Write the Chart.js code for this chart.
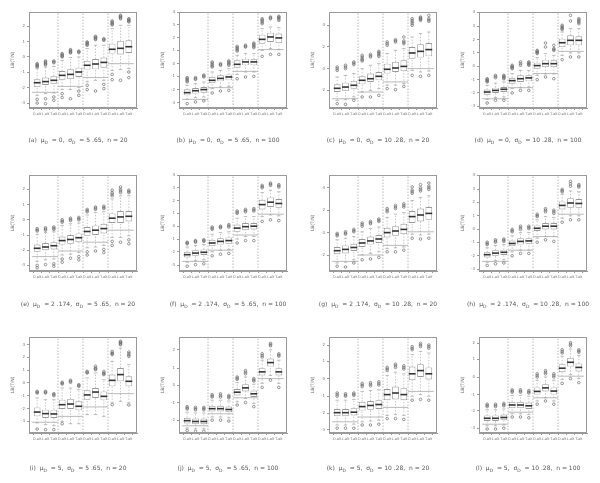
<!DOCTYPE html>
<html><head><meta charset="utf-8">
<script src="https://cdn.jsdelivr.net/npm/chart.js@4.4.0/dist/chart.umd.min.js"></script>
<style>
body{margin:0;background:#fff;width:600px;height:483px;overflow:hidden;position:relative;font-family:"DejaVu Sans",sans-serif}
canvas{position:absolute}
.cap{position:absolute;width:150px;text-align:center;font-size:6px;color:#555;white-space:pre;will-change:transform}
.cap sub{font-size:4.5px}
</style></head><body>
<script>
// panels in reading order (a)..(l)
const letters = ["a","b","c","d","e","f","g","h","i","j","k","l"];
const muD = ["0","0","0","0","2 .174","2 .174","2 .174","2 .174","5","5","5","5"];
const sigmaD = ["5 .65","5 .65","10 .28","10 .28","5 .65","5 .65","10 .28","10 .28","5 .65","5 .65","10 .28","10 .28"];
const nObs = [20,100,20,100,20,100,20,100,20,100,20,100];
const methods = ["D.alt","L.alt","T.alt","D.alt","L.alt","T.alt","D.alt","L.alt","T.alt","D.alt","L.alt","T.alt"];
const yTickValues = [
  [0.31,1.27,2.23,3.19,4.15,5.10],
  [0.33,1.15,1.98,2.77,3.60,4.40,5.21,6.0],
  [1.10,2.46,3.83,5.17],
  [0.10,0.94,1.77,2.60,3.44,4.27,5.10,6.0],
  [0.35,1.3,2.25,3.2,4.15,5.1],
  [0.35,1.2,2.0,2.8,3.6,4.4,5.2,6.0],
  [1.0,2.4,3.8,5.2],
  [0.1,0.95,1.8,2.6,3.45,4.3,5.1,6.0],
  [0.73,1.52,2.33,3.13,3.92,4.73,5.52],
  [0.81,1.88,3.0,4.06,5.2],
  [0.2,1.25,2.3,3.4,4.5,5.5],
  [0.3,1.4,2.4,3.5,4.6,5.6]
];
const yTickLabels = [
  ["-3","-2","-1","0","1","2"],
  ["-3","-2","-1","0","1","2","3","4"],
  ["-2","0","2","4"],
  ["-3","-2","-1","0","1","2","3","4"],
  ["-3","-2","-1","0","1","2"],
  ["-3","-2","-1","0","1","2","3","4"],
  ["-2","0","2","4"],
  ["-3","-2","-1","0","1","2","3","4"],
  ["-3","-2","-1","0","1","2","3"],
  ["-2","-1","0","1","2"],
  ["-3","-2","-1","0","1","2"],
  ["-3","-2","-1","0","1","2"]
];
const boxQ1 = [
  [1.31,1.44,1.52,1.77,1.81,1.94,2.40,2.42,2.52,3.40,3.35,3.44],
  [0.79,0.90,0.96,1.56,1.67,1.73,2.52,2.67,2.67,4.02,4.13,4.06],
  [1.00,1.06,1.21,1.48,1.63,1.73,2.15,2.25,2.31,3.08,3.15,3.23],
  [0.83,0.94,1.00,1.52,1.63,1.67,2.46,2.56,2.56,3.81,3.92,3.92],
  [1.20,1.30,1.35,1.65,1.70,1.80,2.20,2.25,2.35,3.00,3.00,3.10],
  [0.85,0.95,1.00,1.55,1.65,1.70,2.45,2.55,2.60,3.85,4.00,3.95],
  [1.05,1.10,1.25,1.50,1.65,1.75,2.10,2.20,2.30,3.00,3.10,3.20],
  [0.85,0.95,1.00,1.55,1.65,1.70,2.50,2.60,2.60,3.85,3.95,3.95],
  [1.04,0.94,0.94,1.50,1.50,1.42,2.08,2.19,2.04,2.92,3.23,2.92],
  [0.60,0.55,0.55,1.35,1.35,1.30,2.35,2.60,2.25,3.60,4.15,3.60],
  [1.05,1.05,1.10,1.40,1.45,1.50,2.05,2.10,2.05,3.30,3.50,3.35],
  [0.75,0.75,0.80,1.55,1.55,1.50,2.40,2.60,2.40,3.80,4.15,3.85]
];
const boxMed = [
  [1.58,1.65,1.73,2.04,2.10,2.25,2.67,2.75,2.85,3.67,3.73,3.83],
  [0.96,1.08,1.15,1.73,1.85,1.94,2.73,2.88,2.88,4.29,4.44,4.38],
  [1.23,1.31,1.42,1.73,1.83,1.98,2.42,2.50,2.60,3.44,3.54,3.65],
  [1.00,1.10,1.17,1.71,1.83,1.88,2.65,2.77,2.77,4.08,4.23,4.23],
  [1.42,1.50,1.58,1.90,1.97,2.08,2.47,2.55,2.65,3.30,3.38,3.42],
  [1.02,1.12,1.17,1.75,1.85,1.90,2.68,2.77,2.80,4.15,4.30,4.22],
  [1.27,1.35,1.47,1.75,1.88,2.00,2.40,2.50,2.60,3.40,3.50,3.60],
  [1.02,1.12,1.17,1.72,1.85,1.88,2.67,2.80,2.80,4.10,4.25,4.22],
  [1.31,1.21,1.19,1.77,1.81,1.67,2.38,2.56,2.29,3.29,3.65,3.23],
  [0.77,0.72,0.72,1.52,1.52,1.47,2.55,2.82,2.45,3.82,4.40,3.82],
  [1.27,1.27,1.30,1.65,1.72,1.78,2.40,2.50,2.40,3.70,3.90,3.70],
  [0.92,0.92,0.97,1.75,1.75,1.70,2.60,2.82,2.62,4.05,4.42,4.10]
];
const boxQ3 = [
  [1.79,1.90,1.98,2.31,2.42,2.52,2.94,3.06,3.15,4.02,4.19,4.23],
  [1.17,1.25,1.31,1.94,2.04,2.10,2.98,3.08,3.04,4.58,4.71,4.65],
  [1.48,1.58,1.69,1.98,2.15,2.25,2.77,2.88,2.98,3.81,3.98,4.06],
  [1.15,1.27,1.31,1.88,2.04,2.04,2.83,3.02,2.98,4.33,4.54,4.48],
  [1.65,1.75,1.80,2.15,2.25,2.35,2.75,2.85,2.95,3.60,3.75,3.75],
  [1.20,1.30,1.35,1.95,2.05,2.10,2.90,3.00,3.00,4.45,4.60,4.50],
  [1.50,1.60,1.70,2.00,2.15,2.25,2.70,2.80,2.95,3.75,3.90,4.00],
  [1.17,1.30,1.33,1.90,2.05,2.05,2.85,3.00,3.00,4.35,4.55,4.50],
  [1.60,1.46,1.46,2.08,2.13,1.98,2.67,2.81,2.60,3.65,4.06,3.54],
  [0.95,0.90,0.90,1.70,1.70,1.65,2.75,3.05,2.65,4.05,4.65,4.05],
  [1.50,1.50,1.55,1.95,2.00,2.05,2.75,2.90,2.80,4.15,4.30,4.10],
  [1.10,1.10,1.15,1.95,1.95,1.90,2.85,3.05,2.85,4.30,4.70,4.35]
];
const whiskLo = [
  [0.79,0.90,0.94,1.15,1.15,1.27,1.63,1.73,1.73,2.35,2.40,2.46],
  [0.54,0.65,0.69,1.21,1.31,1.35,2.10,2.25,2.25,3.60,3.71,3.65],
  [0.48,0.52,0.69,1.00,1.10,1.21,1.42,1.42,1.52,2.35,2.25,2.31],
  [0.54,0.65,0.69,1.21,1.27,1.31,2.04,2.13,2.13,3.29,3.44,3.44],
  [0.60,0.70,0.75,1.00,1.05,1.15,1.45,1.50,1.60,2.10,2.10,2.20],
  [0.55,0.65,0.70,1.20,1.30,1.35,2.00,2.15,2.15,3.40,3.50,3.45],
  [0.50,0.55,0.70,1.00,1.10,1.20,1.40,1.45,1.50,2.30,2.25,2.30],
  [0.55,0.65,0.70,1.20,1.30,1.30,2.05,2.15,2.15,3.30,3.45,3.45],
  [0.63,0.52,0.46,0.71,0.58,0.58,1.15,1.15,1.04,1.88,1.98,1.88],
  [0.30,0.25,0.25,1.00,1.00,0.95,1.95,2.15,1.85,3.10,3.60,3.10],
  [0.50,0.50,0.55,0.70,0.75,0.80,1.10,1.15,1.10,2.30,2.40,2.30],
  [0.45,0.45,0.50,1.20,1.20,1.15,2.00,2.20,2.00,3.35,3.65,3.40]
];
const whiskHi = [
  [2.46,2.56,2.60,2.98,3.15,3.19,3.71,3.92,3.92,4.96,5.17,5.17],
  [1.42,1.52,1.63,2.25,2.35,2.46,3.29,3.40,3.40,4.96,5.06,5.02],
  [1.94,2.04,2.15,2.46,2.67,2.77,3.40,3.60,3.71,4.44,4.65,4.75],
  [1.42,1.56,1.63,2.15,2.35,2.35,3.15,3.40,3.29,4.75,4.96,4.96],
  [2.30,2.40,2.45,2.85,2.95,3.00,3.50,3.65,3.70,4.50,4.70,4.70],
  [1.50,1.60,1.65,2.30,2.40,2.45,3.30,3.40,3.40,4.90,5.05,4.95],
  [1.95,2.05,2.15,2.45,2.65,2.75,3.35,3.55,3.65,4.40,4.60,4.70],
  [1.45,1.60,1.65,2.20,2.40,2.40,3.20,3.40,3.35,4.80,5.00,4.95],
  [2.19,2.08,2.08,2.81,2.81,2.71,3.44,3.75,3.33,4.48,5.31,4.27],
  [1.30,1.25,1.25,2.05,2.05,2.00,3.15,3.50,3.05,4.55,5.20,4.55],
  [2.05,2.05,2.10,2.60,2.65,2.70,3.60,3.80,3.70,4.90,5.10,5.00],
  [1.45,1.45,1.50,2.35,2.35,2.30,3.30,3.50,3.30,4.80,5.25,4.85]
];
const outHigh = [
  [[2.56,2.62,2.67,2.72,2.77],[2.69,2.75,2.81,2.88,2.94],[2.83,2.88,2.94],[3.19,3.24,3.29,3.35,3.40],[3.44,3.49,3.54,3.60,3.65],[3.46,3.51,3.56],[3.92,3.97,4.02,4.08,4.13],[4.27,4.32,4.38,4.43,4.48],[4.23,4.28,4.33],[5.19,5.25,5.31,5.38,5.44],[5.58,5.63,5.69,5.74,5.79],[5.38,5.43,5.48,5.53,5.58]],
  [[1.63,1.70,1.77,1.84,1.90],[1.79,1.84,1.90],[1.94,2.00,2.06],[2.56,2.63,2.71,2.80,2.88],[2.67,2.72,2.77],[2.67,2.74,2.81,2.88,2.94],[3.56,3.63,3.71,3.78,3.85],[3.81,3.86,3.92],[3.77,3.84,3.92,3.99,4.06],[5.27,5.35,5.44,5.51,5.58],[5.58,5.63,5.69],[5.48,5.55,5.63,5.68,5.73]],
  [[2.35,2.45,2.56],[2.46,2.56,2.67],[2.71,2.80,2.88],[2.94,3.01,3.08,3.19,3.29],[3.19,3.27,3.35],[3.23,3.31,3.40,3.47,3.54],[3.92,4.02,4.13],[4.13,4.20,4.27],[4.02,4.10,4.19,4.44],[5.17,5.27,5.38,5.48,5.58],[5.48,5.53,5.58,5.63,5.69],[5.42,5.50,5.58,5.79]],
  [[1.63,1.68,1.73,1.78,1.83],[1.90,1.97,2.04],[1.83,1.88,1.94,1.99,2.04],[2.46,2.51,2.56,2.61,2.67],[2.67,2.77,2.88],[2.67,2.72,2.77,2.82,2.88],[3.40,3.45,3.50,3.55,3.60],[3.81,4.06],[3.60,3.66,3.71,3.92],[4.90,4.96,5.02,5.10,5.17],[5.44,5.79],[5.27,5.35,5.44,5.51,5.58]],
  [[2.50,2.57,2.65],[2.55,2.62,2.70],[2.60,2.67,2.75],[3.05,3.12,3.20],[3.15,3.22,3.30],[3.20,3.27,3.35],[3.70,3.77,3.85],[3.85,3.92,4.00],[3.90,3.97,4.05],[4.70,4.80,4.90,5.05],[4.90,5.00,5.10,5.25],[4.90,4.97,5.05]],
  [[1.70,1.75,1.80],[1.80,1.85,1.90],[1.85,1.90,1.95],[2.60,2.67,2.75],[2.70,2.75,2.80],[2.75,2.82,2.90],[3.60,3.67,3.75],[3.70,3.77,3.85],[3.75,3.82,3.90],[5.20,5.27,5.35],[5.35,5.42,5.50],[5.25,5.32,5.40]],
  [[2.20,2.27,2.35],[2.30,2.37,2.45],[2.45,2.52,2.60],[2.80,2.90,3.00],[2.95,3.02,3.10],[3.10,3.17,3.25],[3.70,3.80,3.90],[3.90,4.00,4.10],[4.00,4.10,4.20],[4.85,4.95,5.05,5.25],[5.00,5.10,5.20,5.40],[5.10,5.20,5.30,5.50]],
  [[1.65,1.72,1.80],[1.80,1.87,1.95],[1.85,1.92,2.00],[2.45,2.52,2.60],[2.60,2.70,2.80],[2.65,2.72,2.80],[3.40,3.47,3.55],[3.70,3.80,3.90],[3.60,3.70,3.80],[4.95,5.02,5.10],[5.30,5.45,5.60],[5.25,5.32,5.40]],
  [[2.50,2.55,2.60],[2.50,2.55,2.60],[2.33,2.40,2.46],[3.06,3.11,3.17],[3.17,3.23,3.29],[2.92,2.97,3.02],[3.75,3.80,3.85],[3.96,4.01,4.06,4.17],[3.65,3.70,3.75,3.85],[4.90,4.95,5.00,5.10],[5.52,5.57,5.63,5.68,5.73],[4.79,4.87,4.96,5.06]],
  [[1.50,1.57,1.65],[1.45,1.52,1.60],[1.45,1.52,1.60],[2.25,2.32,2.40],[2.25,2.35,2.45],[2.20,2.27,2.35],[3.35,3.42,3.50],[3.70,3.80,3.90],[3.25,3.32,3.40],[4.75,4.85,4.95],[5.45,5.52,5.60],[4.80,4.87,4.95]],
  [[2.30,2.40,2.50],[2.30,2.37,2.45],[2.35,2.42,2.50],[2.90,3.00,3.10],[2.95,3.05,3.15],[3.00,3.10,3.20],[3.90,4.00,4.10],[4.10,4.20,4.30],[4.00,4.10,4.20],[5.20,5.30,5.40],[5.40,5.50,5.60],[5.30,5.40,5.50]],
  [[1.65,1.72,1.80],[1.65,1.72,1.80],[1.70,1.77,1.85],[2.55,2.62,2.70],[2.55,2.62,2.70],[2.50,2.57,2.65],[3.50,3.60,3.70],[3.70,3.80,3.90],[3.50,3.60,3.70],[5.00,5.10,5.20],[5.45,5.55,5.65],[5.05,5.12,5.20]]
];
const outLow = [
  [[0.54,0.31],[0.58,0.27],[0.69,0.48],[0.90,0.65],[0.58],[1.06,0.79],[1.42,1.15],[1.06],[1.48,1.21],[2.10,1.77],[1.73],[2.25,1.90]],
  [[0.27],[0.38],[0.44],[0.94],[1.06],[1.10],[1.83],[1.94],[1.98],[3.23],[3.35],[3.35]],
  [[0.27],[0.23],[0.48],[0.69],[0.69],[0.79],[1.21],[1.15],[1.35],[2.04],[1.98],[2.04]],
  [[0.31],[0.48],[0.48],[0.94],[1.10],[1.10],[1.77],[1.94],[1.83],[3.02],[3.19],[3.19]],
  [[0.35,0.20],[0.40],[0.45,0.30],[0.75,0.55],[0.80],[0.90,0.70],[1.20,1.00],[1.25],[1.35,1.15],[1.85,1.60],[1.80],[1.95,1.70]],
  [[0.30],[0.40],[0.45],[0.95],[1.05],[1.10],[1.75],[1.90],[1.90],[3.10],[3.20],[3.15]],
  [[0.30],[0.25],[0.50],[0.70],[0.75],[0.85],[1.20],[1.20],[1.30],[2.05],[2.00],[2.05]],
  [[0.35],[0.45],[0.50],[0.95],[1.10],[1.10],[1.80],[1.95],[1.85],[3.05],[3.20],[3.20]],
  [[0.25],[0.21],[0.21],[0.58],[],[],[],[],[],[1.77],[],[1.75]],
  [[0.15],[0.10],[0.10],[0.80],[0.80],[0.75],[1.75],[1.90],[1.65],[2.85],[3.30],[2.85]],
  [[0.30],[0.30],[0.30],[0.50],[0.50],[0.55],[0.90],[0.90],[0.85],[2.05],[2.10],[2.05]],
  [[0.25],[0.25],[0.30],[1.00],[1.00],[0.95],[1.80],[2.00],[1.80],[3.10],[3.40],[3.15]]
];
const refLevels = [
  [0.98,1.35,1.90,2.77],
  [0.54,1.27,2.29,3.65],
  [0.58,1.00,1.63,2.46],
  [0.58,1.27,2.15,3.54],
  [0.90,1.25,1.80,2.55],
  [0.60,1.30,2.25,3.55],
  [0.60,1.00,1.60,2.45],
  [0.60,1.30,2.15,3.55],
  [0.67,1.04,1.63,2.46],
  [0.45,1.20,2.20,3.40],
  [0.70,1.00,1.60,2.60],
  [0.55,1.30,2.20,3.55]
];
const groupEdges = [0.4,3.5,6.5,9.5,12.6];
const separators = [3.5,6.5,9.5];
const Y_MIN = 0, Y_MAX = 6;

const GREY = "#9a9a9a";
const frame = {
  id: "frame",
  afterDraw(chart) {
    const {ctx, chartArea: a} = chart;
    ctx.save();
    ctx.strokeStyle = GREY;
    ctx.lineWidth = 1;
    ctx.strokeRect(Math.round(a.left) + 0.5, Math.round(a.top) + 0.5, Math.round(a.width) - 1, Math.round(a.height) - 1);
    ctx.restore();
  }
};

function makePanel(p) {
  const col = p % 4, row = Math.floor(p / 4);
  const cv = document.createElement("canvas");
  cv.width = 150; cv.height = 125;
  cv.style.left = (col * 150) + "px";
  cv.style.top = [0, 163, 325][row] + "px";
  document.body.appendChild(cv);

  const cap = document.createElement("div");
  cap.className = "cap";
  cap.style.left = (col * 150 + 3) + "px";
  cap.style.top = [136, 300, 464][row] + "px";
  cap.innerHTML = "(" + letters[p] + ")  μ<sub>D</sub>  = " + muD[p] + ",  σ<sub>D</sub>  = " + sigmaD[p] + ",  n = " + nObs[p];
  document.body.appendChild(cap);

  const xs = methods.map((m, i) => i + 1);
  const boxes = xs.map((x, i) => ({x: x, y: [boxQ1[p][i], boxQ3[p][i]]}));
  const meds = xs.map((x, i) => ({x: x, y: boxMed[p][i]}));
  const caps = [], whisk = [], outs = [], refs = [], seps = [];
  xs.forEach((x, i) => {
    caps.push({x: x, y: whiskLo[p][i]}, {x: x, y: whiskHi[p][i]});
    whisk.push({x: x, y: whiskLo[p][i]}, {x: x, y: boxQ1[p][i]}, {x: x, y: null},
               {x: x, y: boxQ3[p][i]}, {x: x, y: whiskHi[p][i]}, {x: x, y: null});
    outHigh[p][i].forEach(v => outs.push({x: x, y: v}));
    outLow[p][i].forEach(v => outs.push({x: x, y: v}));
  });
  refLevels[p].forEach((v, g) => {
    refs.push({x: groupEdges[g], y: v}, {x: groupEdges[g + 1], y: v}, {x: groupEdges[g + 1], y: null});
  });
  separators.forEach(x => seps.push({x: x, y: Y_MIN}, {x: x, y: Y_MAX}, {x: x, y: null}));

  new Chart(cv.getContext("2d"), {
    type: "bar",
    data: {
      datasets: [
        {type: "line", data: meds, showLine: false, pointStyle: "line", pointRadius: 3.4,
         pointBorderColor: "#333", pointBorderWidth: 1.6, order: 0},
        {type: "bar", data: boxes, backgroundColor: "#fff", borderColor: GREY, borderWidth: 0.9,
         borderSkipped: false, barPercentage: 0.8, categoryPercentage: 1, order: 1},
        {type: "line", data: caps, showLine: false, pointStyle: "line", pointRadius: 1.7,
         pointBorderColor: "#aaa", pointBorderWidth: 0.8, order: 2},
        {type: "line", data: whisk, borderColor: "#b0b0b0", borderWidth: 0.7, borderDash: [1.5, 1.5],
         pointRadius: 0, spanGaps: false, order: 3},
        {type: "line", data: outs, showLine: false, pointStyle: "circle", pointRadius: 1.3,
         pointBackgroundColor: "rgba(255,255,255,0)", pointBorderColor: "#6a6a6a", pointBorderWidth: 0.7, order: 4},
        {type: "line", data: refs, borderColor: "#a8a8a8", borderWidth: 0.8, pointRadius: 0, spanGaps: false, order: 5},
        {type: "line", data: seps, borderColor: "#a8a8a8", borderWidth: 0.8, borderDash: [1.5, 1.5],
         pointRadius: 0, spanGaps: false, order: 6}
      ]
    },
    options: {
      responsive: false,
      animation: false,
      devicePixelRatio: 1,
      layout: {padding: {left: 0, top: 12, right: 13, bottom: 0}},
      plugins: {legend: {display: false}, tooltip: {enabled: false}},
      scales: {
        x: {
          type: "linear", min: 0.02, max: 12.98, offset: false,
          afterBuildTicks: s => { s.ticks = xs.map(v => ({value: v})); },
          afterFit: s => { s.height = 17; },
          grid: {display: true, drawOnChartArea: false, drawTicks: true, tickLength: 2, color: GREY},
          border: {display: true, color: GREY},
          ticks: {autoSkip: false, maxRotation: 0, minRotation: 0, padding: 2, color: "#777",
                  font: {size: 3.5, family: "DejaVu Sans"},
                  callback: (v, i) => methods[i]}
        },
        y: {
          type: "linear", min: Y_MIN, max: Y_MAX,
          afterBuildTicks: s => { s.ticks = yTickValues[p].map(v => ({value: v})); },
          afterFit: s => { s.width = 29; },
          grid: {display: true, drawOnChartArea: false, drawTicks: true, tickLength: 2, color: GREY},
          border: {display: true, color: GREY},
          title: {display: true, text: "LB(T/N)", color: "#666", font: {size: 4.5, family: "DejaVu Sans"},
                  padding: {top: 10, bottom: 0}},
          ticks: {padding: 2, color: "#777", font: {size: 4, family: "DejaVu Sans"},
                  callback: (v, i) => yTickLabels[p][i]}
        }
      }
    },
    plugins: [frame]
  });
}

letters.forEach((l, p) => makePanel(p));
</script>
</body></html>
